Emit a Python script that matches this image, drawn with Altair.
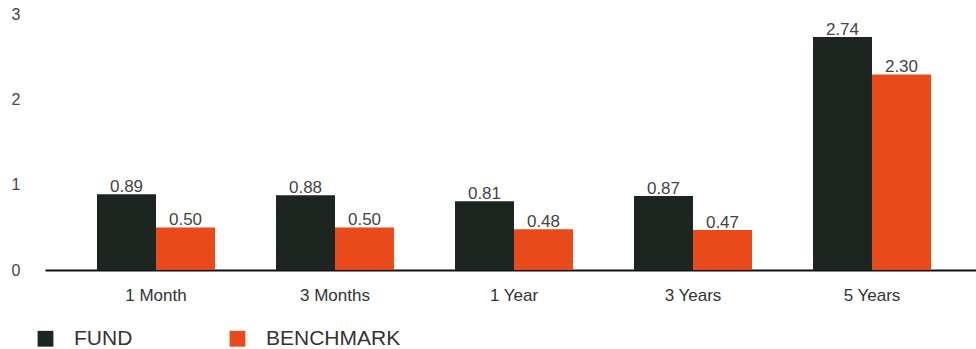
import altair as alt
import pandas as pd

# Cumulative return by period, fund vs benchmark
periods = ["1 Month", "3 Months", "1 Year", "3 Years", "5 Years"]
fund = [0.89, 0.88, 0.81, 0.87, 2.74]
benchmark = [0.50, 0.50, 0.48, 0.47, 2.30]
series_names = ["FUND", "BENCHMARK"]
series_colors = ["#1c2520", "#e84a1c"]
y_ticks = [0, 1, 2, 3]

rows = []
for p, f, b in zip(periods, fund, benchmark):
    rows.append({"period": p, "series": series_names[0], "value": f})
    rows.append({"period": p, "series": series_names[1], "value": b})
df = pd.DataFrame(rows)
df["label"] = df["value"].map(lambda v: f"{v:.2f}")

FONT = "Liberation Sans"

x_enc = alt.X(
    "period:N",
    sort=periods,
    scale=alt.Scale(paddingInner=0.3408, paddingOuter=0.271, align=0.536),
    axis=alt.Axis(
        title=None,
        labelAngle=0,
        ticks=False,
        domainColor="#111111",
        domainWidth=2,
        labelFont=FONT,
        labelFontSize=17,
        labelColor="#333333",
        labelPadding=17,
    ),
)
xoff = alt.XOffset(
    "series:N",
    sort=series_names,
    scale=alt.Scale(paddingInner=0, paddingOuter=0),
)
y_enc = alt.Y(
    "value:Q",
    scale=alt.Scale(domain=[0, 3.176], nice=False, zero=True),
    axis=alt.Axis(
        title=None,
        values=y_ticks,
        format="d",
        grid=False,
        ticks=False,
        domain=False,
        labelFont=FONT,
        labelFontSize=16,
        labelColor="#444444",
        labelPadding=25,
    ),
)

bars = alt.Chart(df).mark_bar().encode(
    x=x_enc,
    xOffset=xoff,
    y=y_enc,
    color=alt.Color(
        "series:N",
        sort=series_names,
        scale=alt.Scale(domain=series_names, range=series_colors),
        legend=alt.Legend(
            title=None,
            orient="none",
            direction="horizontal",
            legendX=-10,
            legendY=328,
            symbolType="square",
            symbolSize=250,
            symbolStrokeWidth=0,
            symbolOpacity=1,
            labelFont=FONT,
            labelFontSize=21,
            labelColor="#333333",
            labelOffset=18,
            columnPadding=94,
            padding=0,
        ),
    ),
)

labels = alt.Chart(df).mark_text(
    baseline="alphabetic", dy=-2, font=FONT, fontSize=17, color="#444444"
).encode(
    x=alt.X("period:N", sort=periods),
    xOffset=alt.XOffset("series:N", sort=series_names),
    y="value:Q",
    text="label:N",
)

chart = (
    alt.layer(bars, labels)
    .properties(
        width=931,
        height=270,
        autosize=alt.AutoSizeParams(type="none"),
        padding={"left": 45, "top": 0, "right": 0, "bottom": 79},
        background="white",
    )
    .configure_view(stroke=None)
)

chart.save("out.html", embed_options={"renderer": "svg", "actions": False})
